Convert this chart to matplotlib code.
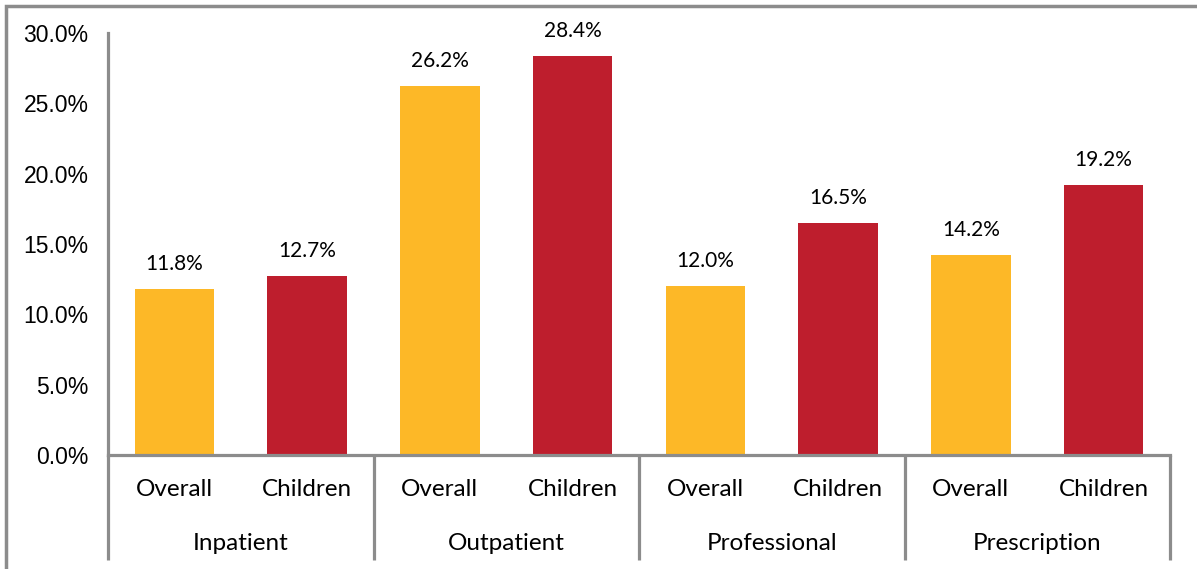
import matplotlib.pyplot as plt
import matplotlib.transforms as mtransforms
from matplotlib.patches import Rectangle
from matplotlib.ticker import FuncFormatter

# Data
groups     = ['Inpatient', 'Outpatient', 'Professional', 'Prescription']
categories = ['Overall', 'Children']
values     = [11.8, 12.7, 26.2, 28.4, 12.0, 16.5, 14.2, 19.2]

yellow = '#FDB827'
red    = '#BE1E2D'
grey   = '#8C8C8C'

fig = plt.figure(figsize=(11.97, 5.69), dpi=100)
ax = fig.add_axes([108/1197, 1-455/569, (1170-108)/1197, (455-33)/569])

xs = list(range(len(values)))
colors = [yellow if i % 2 == 0 else red for i in xs]
bars = ax.bar(xs, values, width=0.6, color=colors, zorder=2)

for b, v in zip(bars, values):
    ax.annotate('{:.1f}%'.format(v), (b.get_x()+b.get_width()/2, v),
                xytext=(0, 18), textcoords='offset points',
                ha='center', va='center', fontsize=15, family='Lato')

ax.set_xlim(-0.5, len(values)-0.5)
ax.set_ylim(0, 30)
ax.set_yticks([0, 5, 10, 15, 20, 25, 30])
ax.yaxis.set_major_formatter(FuncFormatter(lambda v, p: '{:.1f}%'.format(v)))
ax.tick_params(axis='y', length=0, pad=14, labelsize=16.5)
for lab in ax.get_yticklabels():
    lab.set_family('Liberation Sans')
    lab.set_va('center_baseline')
ax.set_xticks([])

for s in ['top', 'right']:
    ax.spines[s].set_visible(False)
for s in ['left', 'bottom']:
    ax.spines[s].set_color(grey)
    ax.spines[s].set_linewidth(2.3)

# two-level category axis
trans = mtransforms.blended_transform_factory(ax.transData, ax.transAxes)
ybot = (455-560)/422
for k in range(len(groups)+1):
    x = -0.5 + 2*k
    ax.plot([x, x], [0, ybot], transform=trans, color=grey, lw=2.3, clip_on=False,
            solid_capstyle='butt')
for i in xs:
    ax.text(i, (455-490)/422, categories[i % 2], transform=trans, ha='center', va='center',
            fontsize=17.5, family='Lato')
for g, name in enumerate(groups):
    ax.text(2*g+0.5, (455-543)/422, name, transform=trans, ha='center', va='center',
            fontsize=17.5, family='Lato')

# outer frame
fig.patches.append(Rectangle((6/1197, -0.1), 1.2, 1-6/569+0.1, transform=fig.transFigure,
                             fill=False, edgecolor=grey, lw=2.5))

fig.savefig('out.png', dpi=100)
